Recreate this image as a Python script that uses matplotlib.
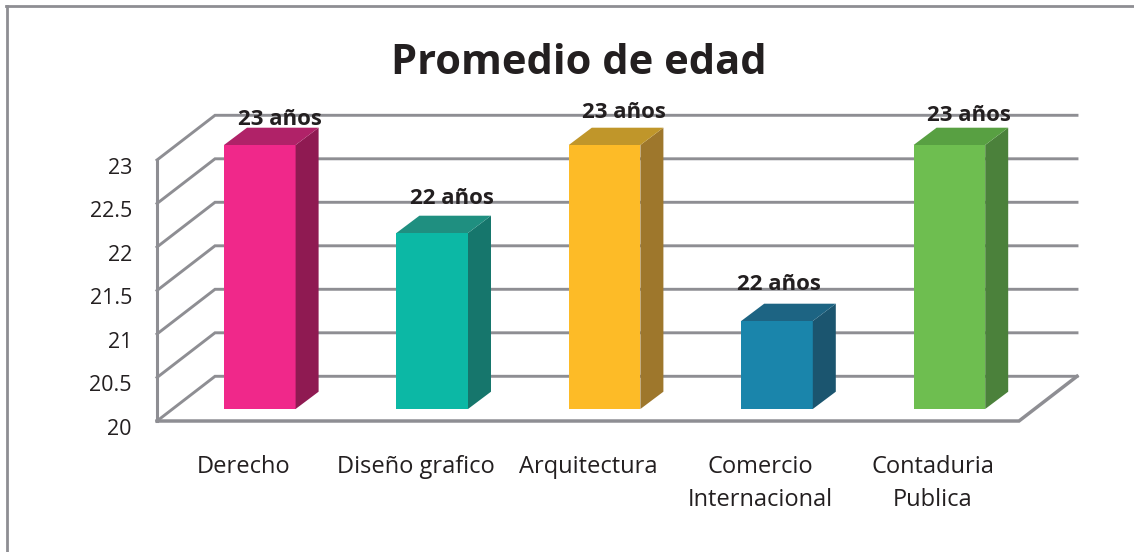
import matplotlib
matplotlib.use("Agg")
import matplotlib.pyplot as plt
from matplotlib.lines import Line2D
from matplotlib.transforms import ScaledTranslation

carreras = ["Derecho", "Diseño grafico", "Arquitectura", "Comercio\nInternacional", "Contaduria\nPublica"]
promedio = [23, 22, 23, 21, 23]
etiquetas = ["23 años", "22 años", "23 años", "22 años", "23 años"]
marcas_y = [20, 20.5, 21, 21.5, 22, 22.5, 23]
marcas_txt = ["20", "20.5", "21", "21.5", "22", "22.5", "23"]

col_frente = ["#f0288a", "#0cb8a5", "#fdbb27", "#1a85ab", "#6ebe50"]
col_tapa = ["#b02268", "#1f8f80", "#c0962a", "#1d6483", "#58a042"]
col_lado = ["#8f1a52", "#16766c", "#9e772c", "#1b556f", "#4b813b"]
gris = "#8e8e93"
texto = "#231f20"

W, H = 1134, 552
FUENTE = "Open Sans"

fig = plt.figure(figsize=(W / 100, H / 100), dpi=100)


def caja(x0, y_top, x1, y_bot):
    return [x0 / W, 1 - y_bot / H, (x1 - x0) / W, (y_bot - y_top) / H]


# marco exterior
fig.add_artist(Line2D([7 / W, 7 / W], [0, 1 - 5.5 / H], color=gris, lw=2.0))
fig.add_artist(Line2D([6 / W, 1], [1 - 5.5 / H, 1 - 5.5 / H], color=gris, lw=2.0))

# plano frontal (ejes y paredes)
ax = fig.add_axes(caja(157, 160, 1019, 421))
ax.set_xlim(-0.5, 4.5)
ax.set_ylim(20, 23)
for s in ax.spines.values():
    s.set_visible(False)
ax.patch.set_alpha(0)

fondo_x = 58 / 172.4
fondo_y = 44.7 / 87
x0, x1 = ax.get_xlim()
for v in marcas_y:
    ax.plot([x0, x0 + fondo_x, x1 + fondo_x], [v, v + fondo_y, v + fondo_y],
            color=gris, lw=2.1, clip_on=False, solid_joinstyle="miter")
ax.plot([x0, x0], [20, 23], color=gris, lw=2.2, clip_on=False)
ax.plot([x0, x1, x1 + fondo_x], [20, 20, 20 + fondo_y], color=gris, lw=2.5, clip_on=False,
        solid_joinstyle="miter")

ax.set_xticks(range(len(carreras)))
ax.set_xticklabels(carreras, fontsize=17, family=FUENTE, color=texto, linespacing=1.5)
ax.set_yticks(marcas_y)
ax.set_yticklabels(marcas_txt, fontsize=15.5, family=FUENTE, color=texto)
ax.tick_params(axis="x", length=0, pad=24.5)
ax.tick_params(axis="y", length=0, pad=18)
baja = ScaledTranslation(0, -4 / 72, fig.dpi_scale_trans)
for lbl in ax.get_yticklabels():
    lbl.set_transform(lbl.get_transform() + baja)
for lbl in ax.get_xticklabels():
    lbl.set_verticalalignment("top")

# barras, un poco hacia adentro del piso
bx = fig.add_axes(caja(173.6, 145, 1035.6, 409))
bx.set_xlim(-0.5, 4.5)
bx.set_ylim(20, 23)
bx.axis("off")
ancho = 71.6 / 172.4
prof_x = 23 / 172.4
prof_y = 17.3 / 88

for i, v in enumerate(promedio):
    izq = i - ancho / 2
    der = i + ancho / 2
    bx.bar(i, v - 20, ancho, bottom=20, color=col_frente[i], linewidth=0)
    bx.fill([der, der + prof_x, der + prof_x, der],
            [20, 20 + prof_y, v + prof_y, v], color=col_lado[i], linewidth=0, clip_on=False)
    bx.fill([izq, izq + prof_x, der + prof_x, der],
            [v, v + prof_y, v + prof_y, v], color=col_tapa[i], linewidth=0, clip_on=False)

# etiquetas de datos
ajuste_x = [20, 20, 19, 2, 20]
ajuste_y = [25, 34, 32, 36, 29]
for i, v in enumerate(promedio):
    bx.annotate(etiquetas[i], (i, v), xytext=(ajuste_x[i], ajuste_y[i]), textcoords="offset pixels",
                ha="center", va="center", fontsize=16, fontweight="bold", family=FUENTE,
                color=texto, annotation_clip=False, zorder=10)

fig.text(579 / W, 1 - 64 / H, "Promedio de edad", ha="center", va="center", fontsize=30,
         fontweight="bold", family=FUENTE, color=texto)

fig.savefig("out.png", dpi=100)
